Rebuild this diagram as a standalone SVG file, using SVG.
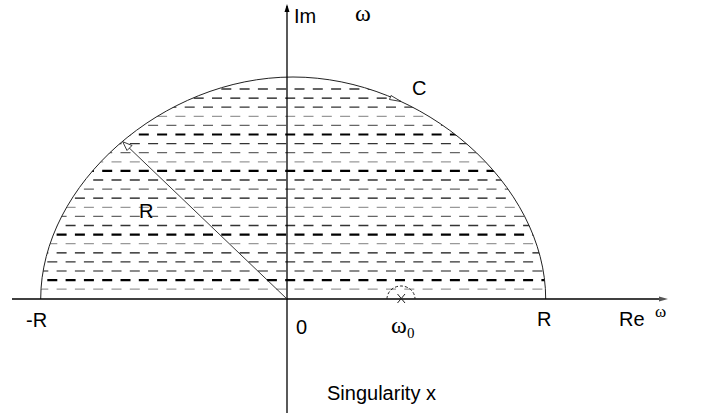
<svg xmlns="http://www.w3.org/2000/svg" width="704" height="415" viewBox="0 0 704 415">
<style>
.t{font-family:"Liberation Sans",Arial,sans-serif;font-size:20px;fill:#000}
.s{font-family:"Liberation Serif","Times New Roman",serif;fill:#000}
.h{stroke-width:1.3;stroke-dasharray:10 8.3;fill:none}
.b{stroke:#000;stroke-width:2.1}
.k{stroke:#111}
.d{stroke:#333}
.g{stroke:#666}
.l{stroke:#999}
.ax{stroke:#000;stroke-width:1.3;fill:none}
</style>
<defs>
<clipPath id="half">
<path d="M40.7 299 C40.7 184.7 163 77 293 77 C423 77 545.7 184.7 545.7 299 Z"/>
</clipPath>
</defs>
<rect width="704" height="415" fill="#fff"/>
<g id="hatch" clip-path="url(#half)">
<line class="h d" x1="20" y1="89" x2="570" y2="89"/>
<line class="h k" x1="29" y1="98.1" x2="570" y2="98.1"/>
<line class="h d" x1="20" y1="107.2" x2="570" y2="107.2"/>
<line class="h l" x1="29" y1="116.3" x2="570" y2="116.3"/>
<line class="h g" x1="20" y1="125.4" x2="570" y2="125.4"/>
<line class="h b" x1="29" y1="134.5" x2="570" y2="134.5"/>
<line class="h d" x1="20" y1="143.6" x2="570" y2="143.6"/>
<line class="h g" x1="29" y1="152.7" x2="570" y2="152.7"/>
<line class="h l" x1="20" y1="161.8" x2="570" y2="161.8"/>
<line class="h b" x1="29" y1="170.9" x2="570" y2="170.9"/>
<line class="h d" x1="20" y1="180" x2="570" y2="180"/>
<line class="h g" x1="29" y1="189.1" x2="570" y2="189.1"/>
<line class="h k" x1="20" y1="198.2" x2="570" y2="198.2"/>
<line class="h l" x1="29" y1="207.3" x2="570" y2="207.3"/>
<line class="h g" x1="20" y1="216.4" x2="570" y2="216.4"/>
<line class="h d" x1="29" y1="225.5" x2="570" y2="225.5"/>
<line class="h b" x1="20" y1="234.6" x2="570" y2="234.6"/>
<line class="h l" x1="29" y1="243.7" x2="570" y2="243.7"/>
<line class="h k" x1="20" y1="252.8" x2="570" y2="252.8"/>
<line class="h d" x1="29" y1="261.9" x2="570" y2="261.9"/>
<line class="h g" x1="20" y1="271" x2="570" y2="271"/>
<line class="h b" x1="29" y1="280.1" x2="570" y2="280.1"/>
<line class="h l" x1="20" y1="289.2" x2="570" y2="289.2"/>
</g>
<g id="contour">
<path d="M40.7 299 C40.7 184.7 163 77 293 77 C423 77 545.7 184.7 545.7 299" fill="none" stroke="#222" stroke-width="1"/>
<polygon points="401,101.5 391,95.5 389.5,99.5" fill="#fff" stroke="#222" stroke-width="0.9"/>
</g>
<g id="connectors">
<line class="ax" x1="287" y1="6" x2="287" y2="413"/>
<polygon points="287,4 284.5,12 289.5,12" fill="#000"/>
<line class="ax" x1="12" y1="299" x2="662" y2="299"/>
<polygon points="668,299 659,296.5 659,301.5" fill="#555"/>
<line x1="287" y1="299" x2="123" y2="142" stroke="#222" stroke-width="0.9"/>
<polygon points="122.7,141.7 132,145.5 127,150.5" fill="#fff" stroke="#222" stroke-width="0.9"/>
</g>
<g id="singularity">
<path d="M387 299 A14 13 0 0 1 415 299" fill="none" stroke="#222" stroke-width="1" stroke-dasharray="3 2"/>
<path d="M397.5 294 L405 303 M405 294 L397.5 303" stroke="#222" stroke-width="1"/>
</g>
<g id="labels">
<text class="t" x="294" y="23">Im</text>
<text class="s" x="355" y="21" font-size="24">ω</text>
<text class="t" x="412" y="95">C</text>
<text class="t" x="139" y="218">R</text>
<text class="t" x="26" y="327">-R</text>
<text class="t" x="296" y="334">0</text>
<text class="s" x="391" y="333" font-size="24">ω</text>
<text class="s" x="407" y="338" font-size="15">0</text>
<text class="t" x="537" y="326">R</text>
<text class="t" x="619" y="326">Re</text>
<text class="s" x="655" y="317" font-size="17">ω</text>
<text class="t" x="327" y="400">Singularity x</text>
</g>
</svg>
